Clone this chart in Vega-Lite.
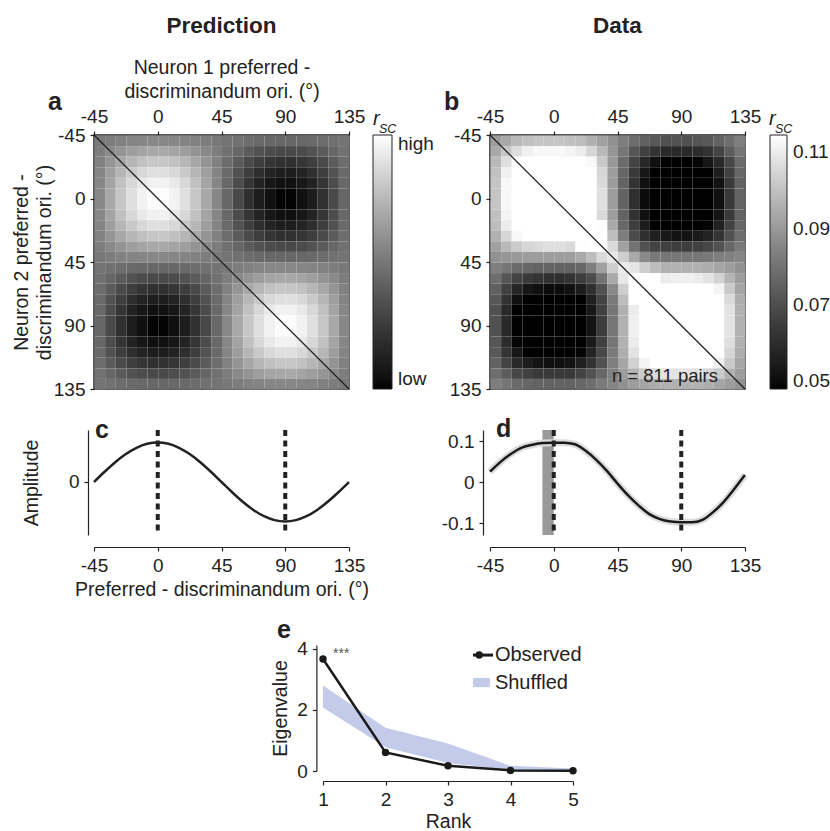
{"$schema":"https://vega.github.io/schema/vega-lite/v6.json",
"autosize":{"type":"none"},
"padding":{"left":94,"top":135,"right":736,"bottom":696},
"background":"white",
"config":{"font":"Liberation Sans","view":{"stroke":null},
"axis":{"labelFontSize":19,"labelColor":"#222","titleFontSize":19.5,"titleFontWeight":"normal","titleColor":"#222","domainColor":"#222","tickColor":"#222","domainWidth":1.2,"tickWidth":1.2,"tickSize":4,"labelPadding":5,"grid":false,"labelFlush":false},
"legend":{"labelFontSize":19,"labelColor":"#222"},
"title":{"fontSize":22.5,"fontWeight":"bold","color":"#222"}},
"resolve":{"scale":{"color":"independent"},"legend":{"color":"independent"}},
"datasets":{
"dcurve":[{"x":-45,"v":0.026},{"x":-37.5,"v":0.05},{"x":-30,"v":0.07},{"x":-22.5,"v":0.085},{"x":-15,"v":0.092},{"x":-7.5,"v":0.096},{"x":0,"v":0.097},{"x":7.5,"v":0.097},{"x":15,"v":0.093},{"x":22.5,"v":0.077},{"x":30,"v":0.055},{"x":37.5,"v":0.028},{"x":45,"v":-0.003},{"x":52.5,"v":-0.032},{"x":60,"v":-0.057},{"x":67.5,"v":-0.078},{"x":75,"v":-0.09},{"x":82.5,"v":-0.096},{"x":90,"v":-0.098},{"x":97.5,"v":-0.098},{"x":105,"v":-0.092},{"x":112.5,"v":-0.073},{"x":120,"v":-0.048},{"x":127.5,"v":-0.016},{"x":135,"v":0.018}],
"hm":[
{"y":-45,"x":[-45,-37.5,-30,-22.5,-15,-7.5,0,7.5,15,22.5,30,37.5,45,52.5,60,67.5,75,82.5,90,97.5,105,112.5,120,127.5],"a":[2,5,8,10,12,13,13,12,10,8,5,2,-2,-5,-8,-10,-12,-13,-13,-12,-10,-8,-5,-2],"b":[91,94,98,100,101,101,101,100,99,96,92,88,83,79,75,73,71,71,71,72,73,76,79,83]},
{"y":-37.5,"x":[-45,-37.5,-30,-22.5,-15,-7.5,0,7.5,15,22.5,30,37.5,45,52.5,60,67.5,75,82.5,90,97.5,105,112.5,120,127.5],"a":[5,14,23,30,35,38,38,35,30,23,14,5,-5,-14,-23,-30,-35,-38,-38,-35,-30,-23,-14,-5],"b":[94,101,107,111,113,113,113,112,110,105,98,89,81,72,66,62,59,59,59,60,62,67,74,81]},
{"y":-30,"x":[-45,-37.5,-30,-22.5,-15,-7.5,0,7.5,15,22.5,30,37.5,45,52.5,60,67.5,75,82.5,90,97.5,105,112.5,120,127.5],"a":[8,23,37,48,56,60,60,56,48,37,23,8,-8,-23,-37,-48,-56,-60,-60,-56,-48,-37,-23,-8],"b":[98,107,116,121,124,125,125,123,120,113,102,90,78,67,58,51,48,47,47,49,53,59,68,78]},
{"y":-22.5,"x":[-45,-37.5,-30,-22.5,-15,-7.5,0,7.5,15,22.5,30,37.5,45,52.5,60,67.5,75,82.5,90,97.5,105,112.5,120,127.5],"a":[10,30,48,62,73,78,78,73,62,48,30,10,-10,-30,-48,-62,-73,-78,-78,-73,-62,-48,-30,-10],"b":[100,111,121,127,130,131,131,129,125,117,105,91,77,64,53,46,42,41,41,43,47,55,66,77]},
{"y":-15,"x":[-45,-37.5,-30,-22.5,-15,-7.5,0,7.5,15,22.5,30,37.5,45,52.5,60,67.5,75,82.5,90,97.5,105,112.5,120,127.5],"a":[12,35,56,73,85,91,91,85,73,56,35,12,-12,-35,-56,-73,-85,-91,-91,-85,-73,-56,-35,-12],"b":[101,113,124,130,133,134,134,133,128,119,106,91,76,62,51,43,39,38,38,40,44,52,64,76]},
{"y":-7.5,"x":[-45,-37.5,-30,-22.5,-15,-7.5,0,7.5,15,22.5,30,37.5,45,52.5,60,67.5,75,82.5,90,97.5,105,112.5,120,127.5],"a":[13,38,60,78,91,98,98,91,78,60,38,13,-13,-38,-60,-78,-91,-98,-98,-91,-78,-60,-38,-13],"b":[101,113,125,131,134,135,135,134,129,120,107,91,76,61,50,42,38,37,37,39,43,51,64,76]},
{"y":0,"x":[-45,-37.5,-30,-22.5,-15,-7.5,0,7.5,15,22.5,30,37.5,45,52.5,60,67.5,75,82.5,90,97.5,105,112.5,120,127.5],"a":[13,38,60,78,91,98,98,91,78,60,38,13,-13,-38,-60,-78,-91,-98,-98,-91,-78,-60,-38,-13],"b":[101,113,125,131,134,135,135,134,129,120,107,91,76,61,50,42,38,37,37,39,43,51,64,76]},
{"y":7.5,"x":[-45,-37.5,-30,-22.5,-15,-7.5,0,7.5,15,22.5,30,37.5,45,52.5,60,67.5,75,82.5,90,97.5,105,112.5,120,127.5],"a":[12,35,56,73,85,91,91,85,73,56,35,12,-12,-35,-56,-73,-85,-91,-91,-85,-73,-56,-35,-12],"b":[100,112,123,129,133,134,134,132,127,119,106,91,76,62,51,43,39,39,39,40,45,52,64,76]},
{"y":15,"x":[-45,-37.5,-30,-22.5,-15,-7.5,0,7.5,15,22.5,30,37.5,45,52.5,60,67.5,75,82.5,90,97.5,105,112.5,120,127.5],"a":[10,30,48,62,73,78,78,73,62,48,30,10,-10,-30,-48,-62,-73,-78,-78,-73,-62,-48,-30,-10],"b":[99,110,120,125,128,129,129,127,123,115,114,94,77,65,55,48,44,43,43,45,49,56,67,77]},
{"y":22.5,"x":[-45,-37.5,-30,-22.5,-15,-7.5,0,7.5,15,22.5,30,37.5,45,52.5,60,67.5,75,82.5,90,97.5,105,112.5,120,127.5],"a":[8,23,37,48,56,60,60,56,48,37,23,8,-8,-23,-37,-48,-56,-60,-60,-56,-48,-37,-23,-8],"b":[96,105,113,117,119,120,120,119,115,131,118,99,83,69,61,56,53,52,52,54,57,62,71,79]},
{"y":30,"x":[-45,-37.5,-30,-22.5,-15,-7.5,0,7.5,15,22.5,30,37.5,45,52.5,60,67.5,75,82.5,90,97.5,105,112.5,120,127.5],"a":[5,14,23,30,35,38,38,35,30,23,14,5,-5,-14,-23,-30,-35,-38,-38,-35,-30,-23,-14,-5],"b":[92,98,102,105,106,107,107,106,114,118,117,106,92,80,71,67,66,65,65,66,68,71,77,82]},
{"y":37.5,"x":[-45,-37.5,-30,-22.5,-15,-7.5,0,7.5,15,22.5,30,37.5,45,52.5,60,67.5,75,82.5,90,97.5,105,112.5,120,127.5],"a":[2,5,8,10,12,13,13,12,10,8,5,2,-2,-5,-8,-10,-12,-13,-13,-12,-10,-8,-5,-2],"b":[88,89,90,91,91,91,91,91,94,99,106,109,103,94,86,82,81,81,81,81,82,83,84,85]},
{"y":45,"x":[-45,-37.5,-30,-22.5,-15,-7.5,0,7.5,15,22.5,30,37.5,45,52.5,60,67.5,75,82.5,90,97.5,105,112.5,120,127.5],"a":[-2,-5,-8,-10,-12,-13,-13,-12,-10,-8,-5,-2,2,5,8,10,12,13,13,12,10,8,5,2],"b":[83,81,78,77,76,76,76,76,77,83,92,103,110,109,103,99,96,96,96,96,95,93,91,88]},
{"y":52.5,"x":[-45,-37.5,-30,-22.5,-15,-7.5,0,7.5,15,22.5,30,37.5,45,52.5,60,67.5,75,82.5,90,97.5,105,112.5,120,127.5],"a":[-5,-14,-23,-30,-35,-38,-38,-35,-30,-23,-14,-5,5,14,23,30,35,38,38,35,30,23,14,5],"b":[79,72,67,64,62,61,61,62,65,69,80,94,109,121,122,118,110,111,111,110,108,104,97,91]},
{"y":60,"x":[-45,-37.5,-30,-22.5,-15,-7.5,0,7.5,15,22.5,30,37.5,45,52.5,60,67.5,75,82.5,90,97.5,105,112.5,120,127.5],"a":[-8,-23,-37,-48,-56,-60,-60,-56,-48,-37,-23,-8,8,23,37,48,56,60,60,56,48,37,23,8],"b":[75,66,58,53,51,50,50,51,55,61,71,86,103,122,135,119,121,122,122,121,117,112,102,93]},
{"y":67.5,"x":[-45,-37.5,-30,-22.5,-15,-7.5,0,7.5,15,22.5,30,37.5,45,52.5,60,67.5,75,82.5,90,97.5,105,112.5,120,127.5],"a":[-10,-30,-48,-62,-73,-78,-78,-73,-62,-48,-30,-10,10,30,48,62,73,78,78,73,62,48,30,10],"b":[73,62,51,46,43,42,42,43,48,56,67,82,99,118,119,126,129,130,130,128,124,117,106,95]},
{"y":75,"x":[-45,-37.5,-30,-22.5,-15,-7.5,0,7.5,15,22.5,30,37.5,45,52.5,60,67.5,75,82.5,90,97.5,105,112.5,120,127.5],"a":[-12,-35,-56,-73,-85,-91,-91,-85,-73,-56,-35,-12,12,35,56,73,85,91,91,85,73,56,35,12],"b":[71,59,48,42,39,38,38,39,44,53,66,81,96,110,121,129,133,134,134,132,128,120,108,96]},
{"y":82.5,"x":[-45,-37.5,-30,-22.5,-15,-7.5,0,7.5,15,22.5,30,37.5,45,52.5,60,67.5,75,82.5,90,97.5,105,112.5,120,127.5],"a":[-13,-38,-60,-78,-91,-98,-98,-91,-78,-60,-38,-13,13,38,60,78,91,98,98,91,78,60,38,13],"b":[71,59,47,41,38,37,37,38,43,52,65,81,96,111,122,130,134,135,135,133,129,121,108,96]},
{"y":90,"x":[-45,-37.5,-30,-22.5,-15,-7.5,0,7.5,15,22.5,30,37.5,45,52.5,60,67.5,75,82.5,90,97.5,105,112.5,120,127.5],"a":[-13,-38,-60,-78,-91,-98,-98,-91,-78,-60,-38,-13,13,38,60,78,91,98,98,91,78,60,38,13],"b":[71,59,47,41,38,37,37,38,43,52,65,81,96,111,122,130,134,135,135,133,129,121,108,96]},
{"y":97.5,"x":[-45,-37.5,-30,-22.5,-15,-7.5,0,7.5,15,22.5,30,37.5,45,52.5,60,67.5,75,82.5,90,97.5,105,112.5,120,127.5],"a":[-12,-35,-56,-73,-85,-91,-91,-85,-73,-56,-35,-12,12,35,56,73,85,91,91,85,73,56,35,12],"b":[72,60,49,43,40,39,39,40,45,54,66,81,96,110,121,128,132,133,133,131,127,119,107,96]},
{"y":105,"x":[-45,-37.5,-30,-22.5,-15,-7.5,0,7.5,15,22.5,30,37.5,45,52.5,60,67.5,75,82.5,90,97.5,105,112.5,120,127.5],"a":[-10,-30,-48,-62,-73,-78,-78,-73,-62,-48,-30,-10,10,30,48,62,73,78,78,73,62,48,30,10],"b":[73,62,53,47,44,43,43,45,49,57,68,82,95,108,117,124,128,129,129,127,123,116,105,95]},
{"y":112.5,"x":[-45,-37.5,-30,-22.5,-15,-7.5,0,7.5,15,22.5,30,37.5,45,52.5,60,67.5,75,82.5,90,97.5,105,112.5,120,127.5],"a":[-8,-23,-37,-48,-56,-60,-60,-56,-48,-37,-23,-8,8,23,37,48,56,60,60,56,48,37,23,8],"b":[76,67,59,55,52,51,51,52,56,62,71,83,93,104,112,117,120,121,121,119,116,111,102,93]},
{"y":120,"x":[-45,-37.5,-30,-22.5,-15,-7.5,0,7.5,15,22.5,30,37.5,45,52.5,60,67.5,75,82.5,90,97.5,105,112.5,120,127.5],"a":[-5,-14,-23,-30,-35,-38,-38,-35,-30,-23,-14,-5,5,14,23,30,35,38,38,35,30,23,14,5],"b":[79,74,68,66,64,64,64,64,67,71,77,84,91,97,102,106,108,108,108,107,105,102,96,91]},
{"y":127.5,"x":[-45,-37.5,-30,-22.5,-15,-7.5,0,7.5,15,22.5,30,37.5,45,52.5,60,67.5,75,82.5,90,97.5,105,112.5,120,127.5],"a":[-2,-5,-8,-10,-12,-13,-13,-12,-10,-8,-5,-2,2,5,8,10,12,13,13,12,10,8,5,2],"b":[83,81,78,77,76,76,76,76,77,79,82,85,88,91,93,95,96,96,96,96,95,93,91,88]}
]},
"columns":2,"align":"none","bounds":"flush","spacing":{"row":41,"column":141},
"concat":[
{"width":255,"height":254,"view":{"stroke":"#222","strokeWidth":1.5},
"title":{"text":"Prediction","offset":20},
"layer":[
{"data":{"name":"hm"},"transform":[{"flatten":["x","a","b"]}],"mark":{"type":"rect","binSpacing":0},
"encoding":{
"x":{"field":"x","type":"quantitative","bin":{"binned":true,"step":7.5},"scale":{"domain":[-45,135],"nice":false,"zero":false},"axis":{"orient":"top","values":[-45,0,45,90,135],"labelExpr":"datum.value + ''","domain":false,"title":["Neuron 1 preferred -","discriminandum ori. (°)"],"titlePadding":6,"titleLineHeight":24}},
"y":{"field":"y","type":"quantitative","bin":{"binned":true,"step":7.5},"scale":{"domain":[-45,135],"nice":false,"zero":false,"reverse":true},"axis":{"values":[-45,0,45,90,135],"labelExpr":"datum.value + ''","domain":false,"title":["Neuron 2 preferred -","discriminandum ori. (°)"],"titlePadding":-1,"titleLineHeight":23}},
"color":{"field":"a","type":"quantitative","scale":{"domain":[-100,100],"range":["#000000","#ffffff"],"clamp":true},"legend":{"orient":"none","legendX":279,"legendY":0,"title":null,"padding":0,"direction":"vertical","gradientLength":254,"gradientThickness":19,"gradientStrokeColor":"#222","gradientStrokeWidth":1,"values":[-100,100],"labelExpr":"datum.value > 0 ? 'high' : 'low'","labelOffset":6}}}},
{"data":{"values":[{"x":-45,"y":-45,"x2":135,"y2":135}]},"mark":{"type":"rule","color":"#222","strokeWidth":1.3},
"encoding":{"x":{"field":"x","type":"quantitative"},"y":{"field":"y","type":"quantitative"},"x2":{"field":"x2"},"y2":{"field":"y2"}}},
{"data":{"values":[{"t":"a"}]},"mark":{"type":"text","fontSize":25,"fontWeight":"bold","align":"left","baseline":"alphabetic","dx":-46,"dy":-25,"color":"#222"},
"encoding":{"x":{"datum":-45},"y":{"datum":-45},"text":{"field":"t"}}},
{"data":{"values":[{"t":"r"}]},"mark":{"type":"text","fontSize":20,"fontStyle":"italic","align":"left","baseline":"alphabetic","dx":24,"dy":-10,"color":"#222"},
"encoding":{"x":{"datum":135},"y":{"datum":-45},"text":{"field":"t"}}},
{"data":{"values":[{"t":"SC"}]},"mark":{"type":"text","fontSize":12.5,"fontStyle":"italic","align":"left","baseline":"alphabetic","dx":30,"dy":-2,"color":"#222"},
"encoding":{"x":{"datum":135},"y":{"datum":-45},"text":{"field":"t"}}}
]},
{"width":255,"height":254,"view":{"stroke":"#222","strokeWidth":1.5},
"title":{"text":"Data","offset":53},
"layer":[
{"data":{"name":"hm"},"transform":[{"flatten":["x","a","b"]}],"mark":{"type":"rect","binSpacing":0},
"encoding":{
"x":{"field":"x","type":"quantitative","bin":{"binned":true,"step":7.5},"scale":{"domain":[-45,135],"nice":false,"zero":false},"axis":{"orient":"top","values":[-45,0,45,90,135],"labelExpr":"datum.value + ''","domain":false,"title":null}},
"y":{"field":"y","type":"quantitative","bin":{"binned":true,"step":7.5},"scale":{"domain":[-45,135],"nice":false,"zero":false,"reverse":true},"axis":{"values":[-45,0,45,90,135],"labelExpr":"datum.value + ''","domain":false,"title":null}},
"color":{"field":"b","type":"quantitative","scale":{"domain":[48,114.5],"range":["#000000","#ffffff"],"clamp":true},"legend":{"orient":"none","legendX":280,"legendY":0,"title":null,"padding":0,"direction":"vertical","gradientLength":254,"gradientThickness":17,"gradientStrokeColor":"#222","gradientStrokeWidth":1,"values":[50,70,90,110],"labelExpr":"format(datum.value/1000, '.2f')","labelOffset":6}}}},
{"data":{"values":[{"x":-45,"y":-45,"x2":135,"y2":135}]},"mark":{"type":"rule","color":"#222","strokeWidth":1.3},
"encoding":{"x":{"field":"x","type":"quantitative"},"y":{"field":"y","type":"quantitative"},"x2":{"field":"x2"},"y2":{"field":"y2"}}},
{"data":{"values":[{"t":"b"}]},"mark":{"type":"text","fontSize":25,"fontWeight":"bold","align":"left","baseline":"alphabetic","dx":-46,"dy":-25,"color":"#222"},
"encoding":{"x":{"datum":-45},"y":{"datum":-45},"text":{"field":"t"}}},
{"data":{"values":[{"t":"r"}]},"mark":{"type":"text","fontSize":20,"fontStyle":"italic","align":"left","baseline":"alphabetic","dx":24,"dy":-10,"color":"#222"},
"encoding":{"x":{"datum":135},"y":{"datum":-45},"text":{"field":"t"}}},
{"data":{"values":[{"t":"SC"}]},"mark":{"type":"text","fontSize":12.5,"fontStyle":"italic","align":"left","baseline":"alphabetic","dx":30,"dy":-2,"color":"#222"},
"encoding":{"x":{"datum":135},"y":{"datum":-45},"text":{"field":"t"}}},
{"data":{"values":[{"t":"n = 811 pairs"}]},"mark":{"type":"text","fontSize":18.5,"align":"right","baseline":"alphabetic","dx":-27,"dy":-7,"color":"#222"},
"encoding":{"x":{"datum":135},"y":{"datum":135},"text":{"field":"t"}}}
]},
{"width":255,"height":105,
"layer":[
{"data":{"values":[{"x":-45,"v":0},{"x":-37.5,"v":0.259},{"x":-30,"v":0.5},{"x":-22.5,"v":0.707},{"x":-15,"v":0.866},{"x":-7.5,"v":0.966},{"x":0,"v":1},{"x":7.5,"v":0.966},{"x":15,"v":0.866},{"x":22.5,"v":0.707},{"x":30,"v":0.5},{"x":37.5,"v":0.259},{"x":45,"v":0},{"x":52.5,"v":-0.259},{"x":60,"v":-0.5},{"x":67.5,"v":-0.707},{"x":75,"v":-0.866},{"x":82.5,"v":-0.966},{"x":90,"v":-1},{"x":97.5,"v":-0.966},{"x":105,"v":-0.866},{"x":112.5,"v":-0.707},{"x":120,"v":-0.5},{"x":127.5,"v":-0.259},{"x":135,"v":0}]},
"mark":{"type":"line","color":"#222","strokeWidth":2.5,"interpolate":"monotone"},
"encoding":{
"x":{"field":"x","type":"quantitative","scale":{"domain":[-45,135],"nice":false,"zero":false},"axis":{"offset":12,"values":[-45,0,45,90,135],"labelExpr":"datum.value + ''","title":"Preferred - discriminandum ori. (°)","titlePadding":5}},
"y":{"field":"v","type":"quantitative","scale":{"domain":[-1.342,1.316],"nice":false,"zero":false},"axis":{"offset":6,"values":[0],"title":"Amplitude","titlePadding":27}}}},
{"data":{"values":[{"x":0},{"x":90}]},"mark":{"type":"rule","color":"#222","strokeWidth":4,"strokeDash":[6,4.5]},
"encoding":{"x":{"field":"x","type":"quantitative"}}},
{"data":{"values":[{"t":"c"}]},"mark":{"type":"text","fontSize":25,"fontWeight":"bold","align":"left","baseline":"alphabetic","dx":1,"dy":8,"color":"#222"},
"encoding":{"x":{"datum":-45},"y":{"datum":1.316},"text":{"field":"t"}}}
]},
{"width":255,"height":105,
"layer":[
{"data":{"values":[{"x":-8,"x2":0}]},"mark":{"type":"rect","color":"#9a9a9a"},
"encoding":{"x":{"field":"x","type":"quantitative","scale":{"domain":[-45,135],"nice":false,"zero":false},"axis":{"offset":12,"values":[-45,0,45,90,135],"labelExpr":"datum.value + ''","title":null}},"x2":{"field":"x2"}}},
{"data":{"name":"dcurve"},"mark":{"type":"line","color":"#dcdcdc","strokeWidth":7,"interpolate":"monotone"},
"encoding":{"x":{"field":"x","type":"quantitative"},"y":{"field":"v","type":"quantitative","scale":{"domain":[-0.129,0.128],"nice":false,"zero":false},"axis":{"offset":7,"values":[-0.1,0,0.1],"labelExpr":"datum.value + ''","title":null}}}},
{"data":{"name":"dcurve"},"mark":{"type":"line","color":"#1a1a1a","strokeWidth":2.5,"interpolate":"monotone"},
"encoding":{"x":{"field":"x","type":"quantitative"},"y":{"field":"v","type":"quantitative"}}},
{"data":{"values":[{"x":0},{"x":90}]},"mark":{"type":"rule","color":"#222","strokeWidth":4,"strokeDash":[6,4.5]},
"encoding":{"x":{"field":"x","type":"quantitative"}}},
{"data":{"values":[{"t":"d"}]},"mark":{"type":"text","fontSize":25,"fontWeight":"bold","align":"left","baseline":"alphabetic","dx":6,"dy":7,"color":"#222"},
"encoding":{"x":{"datum":-45},"y":{"datum":0.128},"text":{"field":"t"}}}
]},
{"width":88,"height":195,"data":{"values":[]},"mark":"point"},
{"width":250,"height":195,
"layer":[
{"data":{"values":[{"rank":1,"lo":2.08,"hi":2.8},{"rank":2,"lo":0.78,"hi":1.42},{"rank":3,"lo":0.26,"hi":0.9},{"rank":4,"lo":0.03,"hi":0.17},{"rank":5,"lo":0.01,"hi":0.08}]},
"mark":{"type":"area","color":"#c4cae9","opacity":1},
"encoding":{
"x":{"field":"rank","type":"quantitative","scale":{"domain":[1,5],"range":[-167,83],"nice":false,"zero":false},"axis":{"offset":10,"values":[1,2,3,4,5],"labelExpr":"datum.value + ''","title":"Rank","titlePadding":3}},
"y":{"field":"lo","type":"quantitative","scale":{"domain":[0,4.13],"range":[195,69],"nice":false,"zero":false},"axis":{"offset":173.6,"values":[0,2,4],"title":"Eigenvalue","titlePadding":6}},
"y2":{"field":"hi"}}},
{"data":{"values":[{"rank":1,"v":3.67},{"rank":2,"v":0.61},{"rank":3,"v":0.17},{"rank":4,"v":0.02},{"rank":5,"v":0.01}]},
"mark":{"type":"line","color":"#1a1a1a","strokeWidth":2.5,"point":{"filled":true,"size":55,"color":"#1a1a1a"}},
"encoding":{"x":{"field":"rank","type":"quantitative"},"y":{"field":"v","type":"quantitative"}}},
{"data":{"values":[{"t":"***"}]},"mark":{"type":"text","fontSize":14,"align":"left","baseline":"alphabetic","dx":10,"dy":9,"color":"#555"},
"encoding":{"x":{"datum":1},"y":{"datum":4},"text":{"field":"t"}}},
{"data":{"values":[{"t":"Observed"}]},"mark":{"type":"rule","color":"#1a1a1a","strokeWidth":3},
"encoding":{"x":{"datum":3.4},"x2":{"datum":3.72},"y":{"datum":3.8}}},
{"data":{"values":[{"t":"Observed"}]},"mark":{"type":"point","filled":true,"size":55,"color":"#1a1a1a","opacity":1},
"encoding":{"x":{"datum":3.5},"y":{"datum":3.8}}},
{"data":{"values":[{"t":"Observed"}]},"mark":{"type":"text","fontSize":20,"align":"left","baseline":"middle","color":"#222"},
"encoding":{"x":{"datum":3.75},"y":{"datum":3.8},"text":{"field":"t"}}},
{"data":{"values":[{"t":"Shuffled"}]},"mark":{"type":"rect","color":"#c4cae9"},
"encoding":{"x":{"datum":3.4},"x2":{"datum":3.67},"y":{"datum":3.05},"y2":{"datum":2.75}}},
{"data":{"values":[{"t":"Shuffled"}]},"mark":{"type":"text","fontSize":20,"align":"left","baseline":"middle","color":"#222"},
"encoding":{"x":{"datum":3.75},"y":{"datum":2.9},"text":{"field":"t"}}},
{"data":{"values":[{"t":"e"}]},"mark":{"type":"text","fontSize":25,"fontWeight":"bold","align":"left","baseline":"alphabetic","dx":-46,"dy":-7,"color":"#222"},
"encoding":{"x":{"datum":1},"y":{"datum":4.13},"text":{"field":"t"}}}
]}
]}
